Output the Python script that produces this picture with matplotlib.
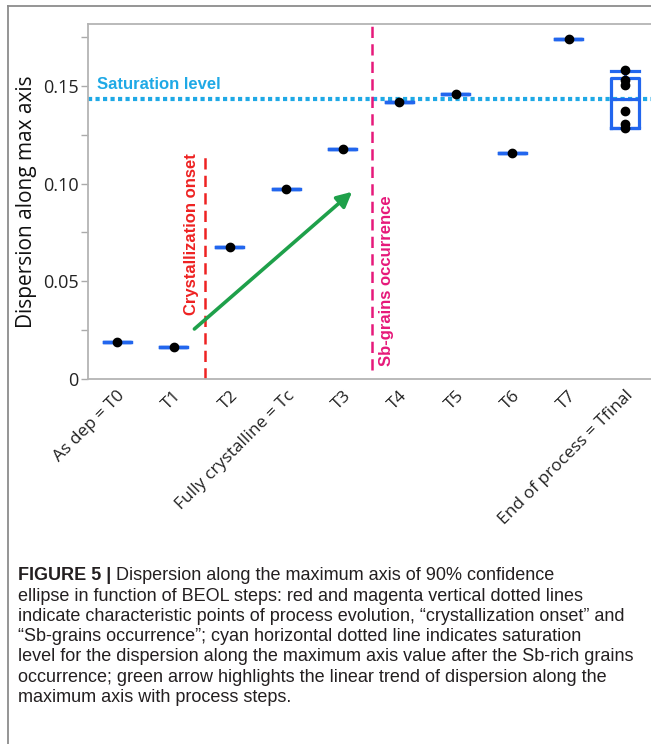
import matplotlib.pyplot as plt
from matplotlib.lines import Line2D

# data
categories = ['As dep = T0', 'T1', 'T2', 'Fully crystalline = Tc', 'T3',
              'T4', 'T5', 'T6', 'T7', 'End of process = Tfinal']
single_values = [0.0191, 0.0164, 0.0673, 0.0970, 0.1176,
                 0.1416, 0.1460, 0.1155, 0.1740]
final_points = [0.1580, 0.1530, 0.1504, 0.1372, 0.1304, 0.1282]
# box of the last step: whislo, q1, median, q3, whishi
final_box = [0.1282, 0.1285, 0.1435, 0.1542, 0.1575]

saturation = 0.1435
cryst_x = 1.55
sb_x = 4.52
arrow_start = (1.37, 0.0256)
arrow_end = (4.165, 0.0958)

fig = plt.figure(figsize=(6.51, 7.44), dpi=100)
W, H = 651, 744

ax = fig.add_axes([88.3 / W, 1 - 379 / H, (660 - 88.3) / W, (379 - 24.3) / H])

blue = '#2266ee'
stats = []
for i, v in enumerate(single_values):
    stats.append(dict(whislo=v, q1=v, med=v, q3=v, whishi=v, fliers=[]))
lo, q1, med, q3, hi = final_box
stats.append(dict(whislo=lo, q1=q1, med=med, q3=q3, whishi=hi, fliers=[]))

lp = dict(color=blue, linewidth=2.3)
ax.bxp(stats, positions=range(len(categories)), widths=0.48, showfliers=False,
       boxprops=lp, medianprops=lp, whiskerprops=lp, capprops=lp,
       capwidths=0.48, manage_ticks=False, zorder=3)

ax.plot(range(len(single_values)), single_values, 'o', color='black',
        markersize=6, zorder=4)
ax.plot([len(categories) - 1] * len(final_points), final_points, 'o',
        color='black', markersize=6, zorder=4)

# reference lines
ax.axhline(saturation, color='#1fa9e6', linestyle=(0, (1, 0.8)), linewidth=3, zorder=2)
ax.plot([cryst_x, cryst_x], [0, 0.1162], color='#ee2222', linestyle=(0, (4.5, 2.5)),
        linewidth=1.8, zorder=2)
ax.plot([sb_x, sb_x], [0.0046, 0.19], color='#e6197a', linestyle=(0, (4.5, 2.5)),
        linewidth=1.8, zorder=2)

ax.annotate('', xy=arrow_end, xytext=arrow_start,
            arrowprops=dict(arrowstyle='-|>,head_length=0.9,head_width=0.45',
                            color='#1ea04a', linewidth=2.6, shrinkA=0, shrinkB=0))

ax.text(-0.36, 0.1506, 'Saturation level', color='#1fa9e6', fontsize=12,
        fontweight='bold', family='Liberation Sans', va='center', ha='left')
ax.text(1.325, 0.0741, 'Crystallization onset', color='#ee2222', fontsize=12,
        fontweight='bold', family='Liberation Sans', rotation=90, va='center', ha='center')
ax.text(4.77, 0.0505, 'Sb-grains occurrence', color='#e6197a', fontsize=12,
        fontweight='bold', family='Liberation Sans', rotation=90, va='center', ha='center')

ax.set_xlim(-0.51, 9.62)
ax.set_ylim(0, 0.1815)
ax.set_yticks([0, 0.05, 0.10, 0.15])
ax.set_yticklabels(['0', '0.05', '0.10', '0.15'])
ax.set_yticks([0.025, 0.075, 0.125, 0.175], minor=True)
ax.set_xticks(range(len(categories)))
ax.set_xticklabels(categories, rotation=45, ha='right', rotation_mode='anchor',
                   family='Open Sans', fontsize=12.5, color='#222222')
for lab in ax.get_yticklabels():
    lab.set_family('Open Sans')
    lab.set_fontsize(13)
    lab.set_color('#222222')

ax.tick_params(axis='y', which='both', direction='out', length=5, width=1,
               color='#aaaaaa', pad=2)
ax.tick_params(axis='x', length=0, pad=6)
for s in ax.spines.values():
    s.set_color('#b4b4b4')
    s.set_linewidth(1.3)

ax.set_ylabel('Dispersion along max axis', family='Open Sans', fontsize=15,
              color='#111111', labelpad=4)

# outer frame of the figure panel
fig.add_artist(Line2D([8 / W, 8 / W], [0, 1 - 6 / H], color='#8c8c8c', linewidth=1.3,
                      transform=fig.transFigure))
fig.add_artist(Line2D([8 / W, 1], [1 - 6 / H, 1 - 6 / H], color='#8c8c8c', linewidth=1.3,
                      transform=fig.transFigure))

# caption
cap_font = 'Liberation Sans'
cap_lines = [
    ' Dispersion along the maximum axis of 90% confidence',
    'ellipse in function of BEOL steps: red and magenta vertical dotted lines',
    'indicate characteristic points of process evolution, \u201ccrystallization onset\u201d and',
    '\u201cSb-grains occurrence\u201d; cyan horizontal dotted line indicates saturation',
    'level for the dispersion along the maximum axis value after the Sb-rich grains',
    'occurrence; green arrow highlights the linear trend of dispersion along the',
    'maximum axis with process steps.',
]
cap_x = 18
cap_y = [576 + 20.2 * i for i in range(len(cap_lines))]
head = fig.text(cap_x / W, 1 - cap_y[0] / H, 'FIGURE 5 |', fontsize=13, fontweight='bold',
                family=cap_font, color='#231f20', va='center')
renderer = fig.canvas.get_renderer()
bb = head.get_window_extent(renderer)
for i, line in enumerate(cap_lines):
    x0 = bb.x1 / W if i == 0 else cap_x / W
    fig.text(x0, 1 - cap_y[i] / H, line, fontsize=13, family=cap_font,
             color='#231f20', va='center')

fig.savefig('out.png', dpi=100)
